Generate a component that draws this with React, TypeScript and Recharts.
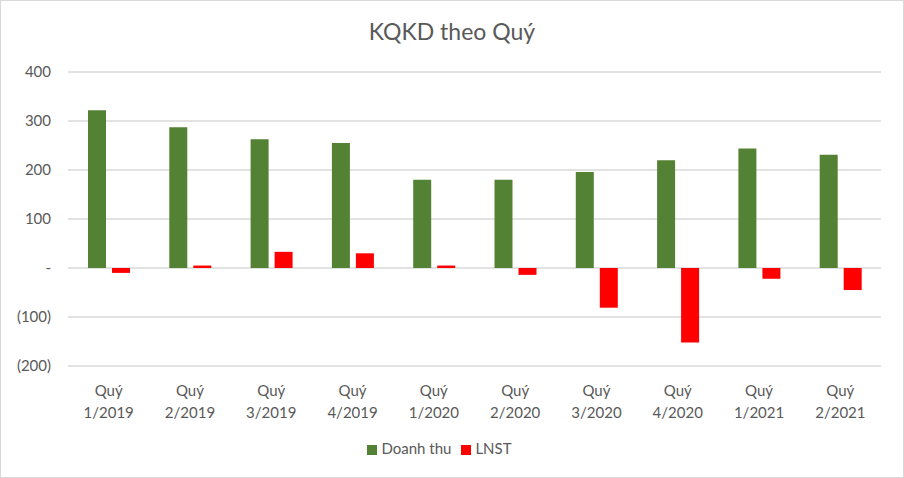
import React from "react";
import { BarChart, Bar, XAxis, YAxis, CartesianGrid, Legend } from "recharts";

const quarters = ["Quý 1/2019", "Quý 2/2019", "Quý 3/2019", "Quý 4/2019", "Quý 1/2020", "Quý 2/2020", "Quý 3/2020", "Quý 4/2020", "Quý 1/2021", "Quý 2/2021"];
const doanhThu = [322, 287, 263, 255, 180, 180, 196, 220, 244, 231];
const lnst = [-10, 5, 33, 30, 5, -14, -81, -152, -22, -45];
const yTicks = [-200, -100, 0, 100, 200, 300, 400];

const data = quarters.map((q, i) => ({ name: q, dt: doanhThu[i], ln: lnst[i] }));

const FONT = "Lato, 'Open Sans', sans-serif";
const GREY = "#595959";

const fmtY = (v: number) => {
  if (v === 0) return "-";
  if (v < 0) return `(${Math.abs(v)})`;
  return `${v}`;
};

function QuarterTick(props: any) {
  const { x, y, payload } = props;
  const [a, b] = String(payload.value).split(" ");
  return (
    <text x={x} y={y} textAnchor="middle" fill={GREY} fontSize={15} fontFamily={FONT}>
      <tspan x={x} dy={22}>{a}</tspan>
      <tspan x={x} dy={22}>{b}</tspan>
    </text>
  );
}

export default function App() {
  return (
    <div
      style={{
        position: "absolute",
        left: 0,
        top: 0,
        width: 904,
        height: 478,
        boxSizing: "border-box",
        border: "1px solid #d9d9d9",
        background: "#fff",
        fontFamily: FONT,
      }}
    >
      <div
        style={{
          position: "absolute",
          top: 16,
          left: 0,
          width: 902,
          textAlign: "center",
          fontSize: 23,
          color: GREY,
        }}
      >
        KQKD theo Quý
      </div>
      <BarChart
        width={902}
        height={476}
        data={data}
        margin={{ top: 71, right: 22, left: 7, bottom: 20 }}
        barGap={6}
        barSize={18}
      >
        <CartesianGrid vertical={false} stroke="#d9d9d9" strokeWidth={1.3} />
        <XAxis dataKey="name" axisLine={false} tickLine={false} tick={<QuarterTick />} interval={0} height={72} />
        <YAxis
          domain={[-200, 400]}
          ticks={yTicks}
          tickFormatter={fmtY}
          axisLine={false}
          tickLine={false}
          width={60}
          tickMargin={11}
          tick={{ fill: GREY, fontSize: 15, fontFamily: FONT }}
        />
        <Legend
          verticalAlign="bottom"
          iconType="square"
          iconSize={10}
          formatter={(v: string) => <span style={{ color: GREY, fontSize: 15 }}>{v}</span>}
        />
        <Bar dataKey="dt" name="Doanh thu" fill="#548235" isAnimationActive={false} />
        <Bar dataKey="ln" name="LNST" fill="#ff0000" isAnimationActive={false} />
      </BarChart>
    </div>
  );
}
